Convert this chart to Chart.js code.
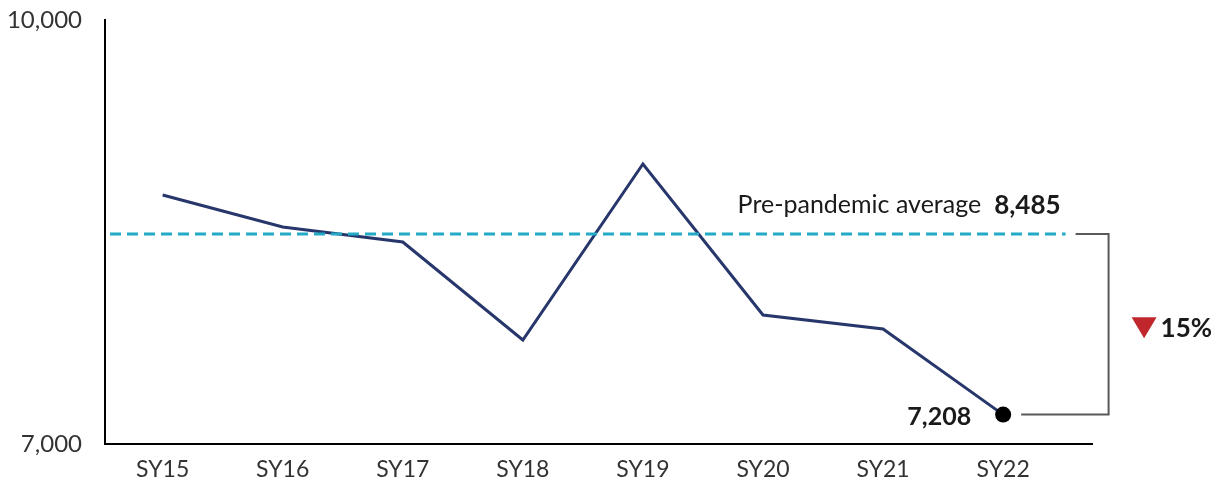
<!DOCTYPE html>
<html>
<head>
<meta charset="utf-8">
<script src="https://cdn.jsdelivr.net/npm/chart.js@4.4.1/dist/chart.umd.min.js"></script>
<style>
  html, body { margin: 0; padding: 0; background: #fff; }
  #wrap { width: 1225px; height: 496px; position: relative; }
</style>
</head>
<body>
<div id="wrap"><canvas id="line-chart"></canvas></div>
<script>
const categories = ["SY15", "SY16", "SY17", "SY18", "SY19", "SY20", "SY21", "SY22"];
const enrollment = [8762, 8535, 8429, 7736, 8981, 7913, 7814, 7208];
const yTicks = [7000, 10000];
const prePandemicAvg = 8485;

const FONT = "Lato, 'Open Sans', sans-serif";
const fmt = (v) => v.toLocaleString("en-US");

// average line, bracket and callouts
const notes = {
  id: "notes",
  afterDatasetsDraw(chart) {
    const { ctx, chartArea, scales } = chart;
    const x = scales.x, y = scales.y;
    const avgY = y.getPixelForValue(prePandemicAvg);
    const last = enrollment.length - 1;
    const lastX = x.getPixelForValue(last);
    const lastY = y.getPixelForValue(enrollment[last]);
    const dashEnd = x.getPixelForValue(last + 0.52);
    const brX = dashEnd + 43;

    ctx.save();
    // dashed average
    ctx.strokeStyle = "#23aac6";
    ctx.lineWidth = 3;
    ctx.setLineDash([11, 6]);
    ctx.beginPath();
    ctx.moveTo(chartArea.left + 5, avgY);
    ctx.lineTo(dashEnd, avgY);
    ctx.stroke();
    ctx.setLineDash([]);

    // bracket
    ctx.strokeStyle = "#595959";
    ctx.lineWidth = 2;
    ctx.beginPath();
    ctx.moveTo(dashEnd + 10, avgY);
    ctx.lineTo(brX, avgY);
    ctx.lineTo(brX, lastY);
    ctx.lineTo(lastX + 18, lastY);
    ctx.stroke();

    // average label
    ctx.fillStyle = "#1a1a1a";
    ctx.textBaseline = "middle";
    ctx.textAlign = "right";
    ctx.font = "bold 26px " + FONT;
    ctx.fillText(fmt(prePandemicAvg), dashEnd - 5, avgY - 29);
    const w = ctx.measureText(fmt(prePandemicAvg)).width;
    ctx.font = "25px " + FONT;
    ctx.fillText("Pre-pandemic average", dashEnd - 5 - w - 13, avgY - 29);

    // last value
    ctx.font = "bold 25px " + FONT;
    ctx.fillText(fmt(enrollment[last]), lastX - 32, lastY + 2);

    // change
    const pct = Math.round((prePandemicAvg - enrollment[last]) / prePandemicAvg * 100);
    const midY = (avgY + lastY) / 2 + 3;
    const tx = brX + 23;
    ctx.fillStyle = "#c0272d";
    ctx.beginPath();
    ctx.moveTo(tx, midY - 10);
    ctx.lineTo(tx + 25, midY - 10);
    ctx.lineTo(tx + 12.5, midY + 11);
    ctx.closePath();
    ctx.fill();
    ctx.fillStyle = "#1a1a1a";
    ctx.textAlign = "left";
    ctx.font = "bold 26px " + FONT;
    ctx.fillText(pct + "%", tx + 29, midY + 1);
    ctx.restore();
  }
};

new Chart(document.getElementById("line-chart"), {
  type: "line",
  data: {
    datasets: [{
      data: enrollment.map((v, i) => ({ x: i, y: v })),
      borderColor: "#27366b",
      borderWidth: 3,
      tension: 0,
      pointRadius: (c) => c.dataIndex === enrollment.length - 1 ? 8 : 0,
      pointBackgroundColor: "#000",
      pointBorderWidth: 0,
      clip: false
    }]
  },
  options: {
    responsive: true,
    maintainAspectRatio: false,
    animation: false,
    layout: { autoPadding: false, padding: { top: 20, right: 133, left: 0, bottom: 0 } },
    plugins: { legend: { display: false }, tooltip: { enabled: false } },
    scales: {
      x: {
        type: "linear",
        min: -0.48,
        max: 7.74,
        afterBuildTicks: (s) => { s.ticks = categories.map((_, i) => ({ value: i })); },
        afterFit: (s) => { s.height = 52; s.paddingLeft = 0; s.paddingRight = 0; },
        ticks: {
          callback: (v) => categories[v],
          font: { family: FONT, size: 23 },
          color: "#333",
          padding: 12,
          maxRotation: 0,
          autoSkip: false
        },
        grid: { display: false, drawTicks: false },
        border: { color: "#000", width: 2 }
      },
      y: {
        min: yTicks[0],
        max: yTicks[yTicks.length - 1],
        afterBuildTicks: (s) => { s.ticks = yTicks.map((v) => ({ value: v })); },
        afterFit: (s) => { s.width = 105; s.paddingTop = 0; s.paddingBottom = 0; },
        ticks: {
          callback: (v) => fmt(v),
          font: { family: FONT, size: 24 },
          color: "#333",
          padding: 23
        },
        grid: { display: false, drawTicks: false },
        border: { color: "#000", width: 2 }
      }
    }
  },
  plugins: [notes]
});
</script>
</body>
</html>
